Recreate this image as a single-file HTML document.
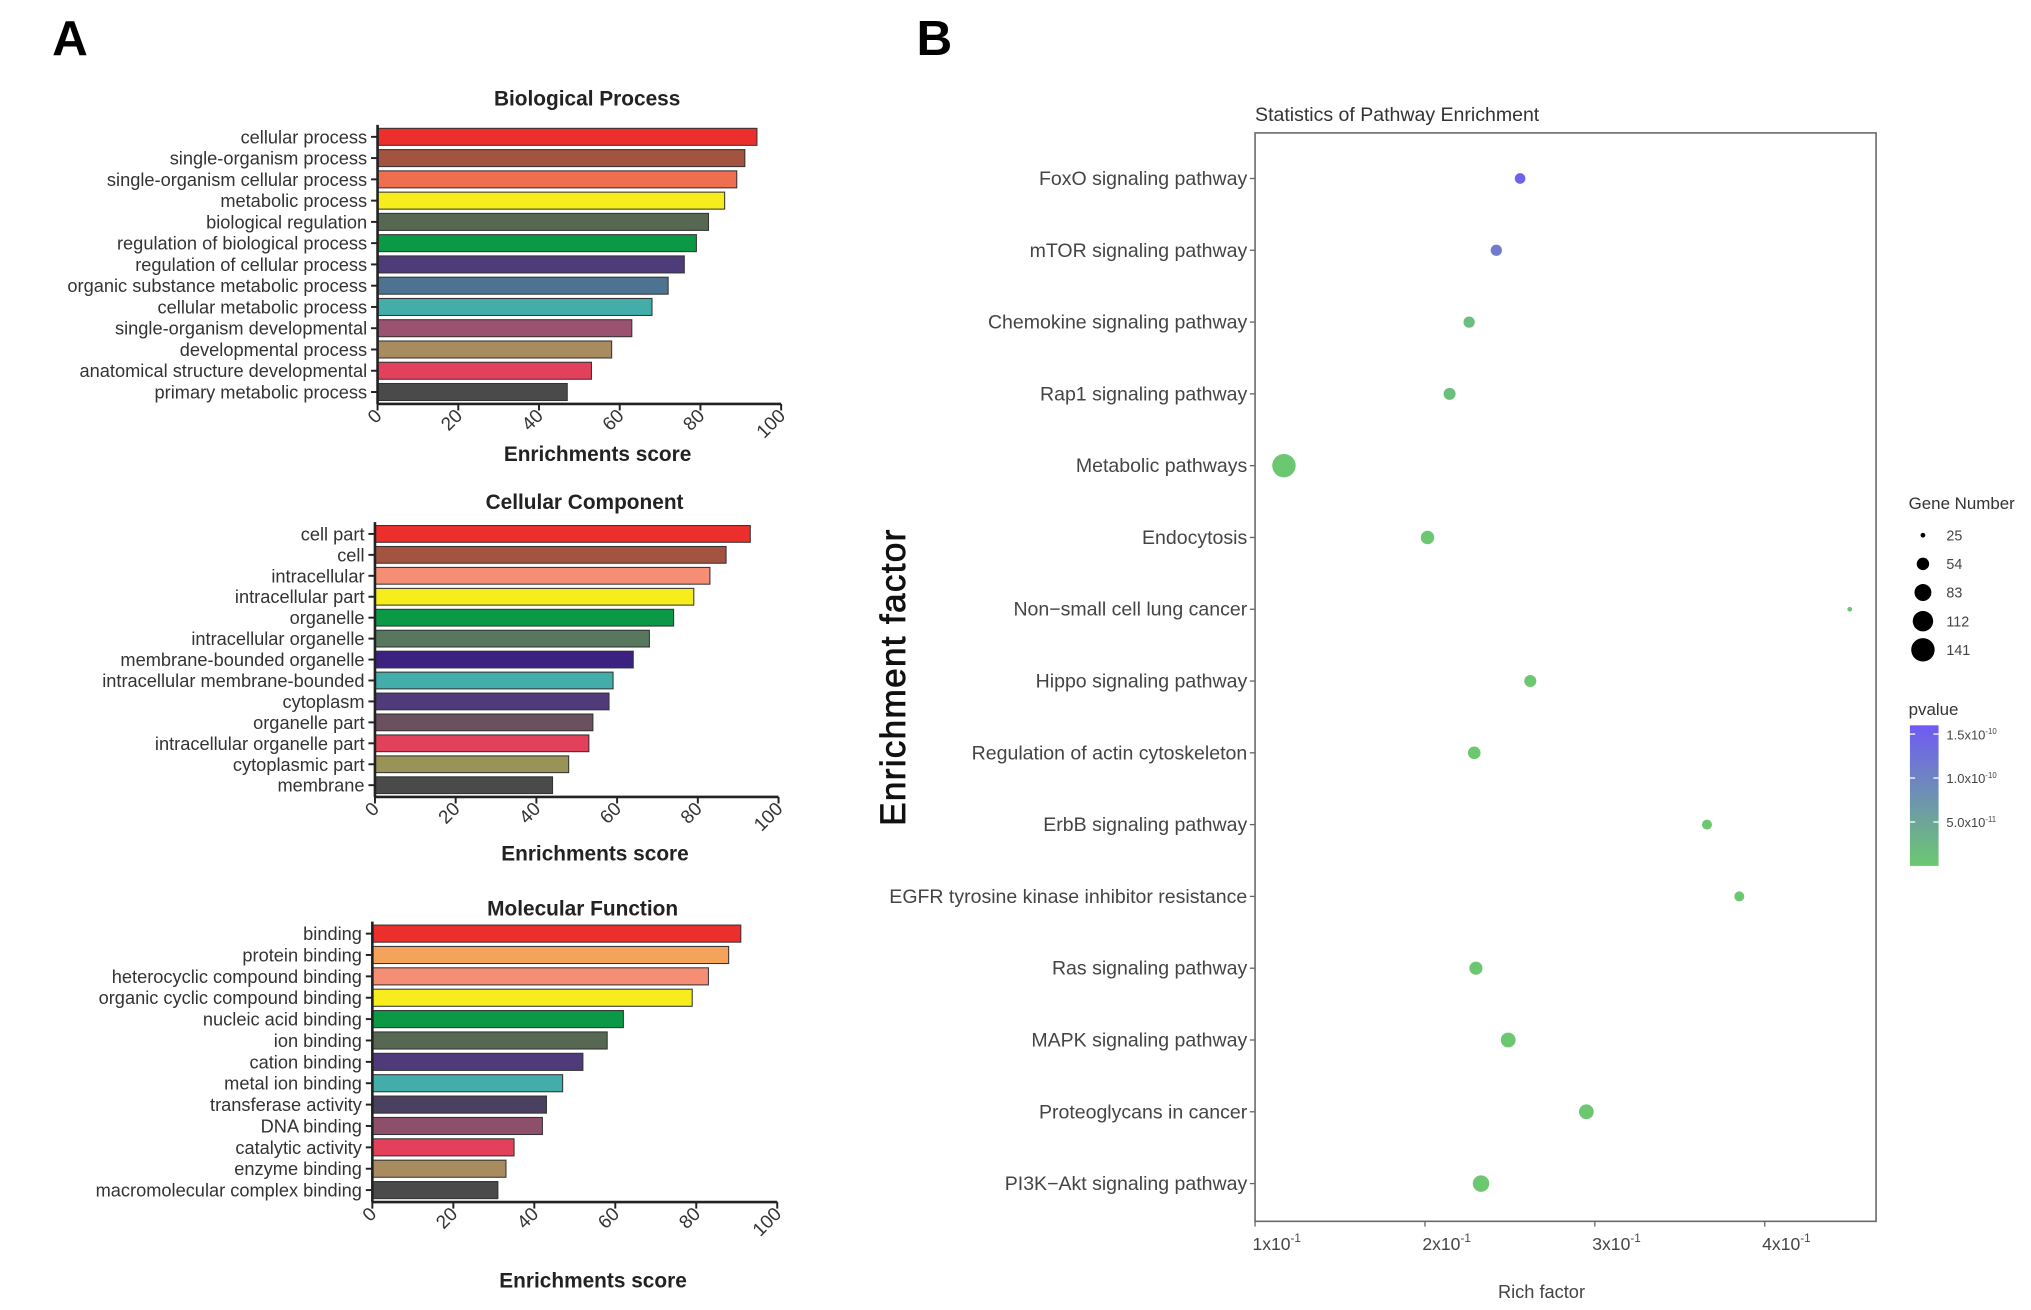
<!DOCTYPE html>
<html><head><meta charset="utf-8"><style>
html,body{margin:0;padding:0;background:#fff;}
svg{display:block;}
text{font-family:"Liberation Sans",Arial,sans-serif;}
</style></head><body>
<svg id="fig" width="2031" height="1310" viewBox="0 0 1560 1006" xmlns="http://www.w3.org/2000/svg">
<text x="40" y="42" font-size="38" font-weight="bold">A</text>
<text x="704" y="42" font-size="38" font-weight="bold">B</text>
<g id="panelA"></g>
<g id="panelB"></g>
</svg>
<script>
const NS="http://www.w3.org/2000/svg";
function mk(p,tag,attrs,txt){const e=document.createElementNS(NS,tag);for(const k in attrs)e.setAttribute(k,attrs[k]);if(txt!==undefined)e.textContent=txt;p.appendChild(e);return e;}

// ---- Panel A data ----
const bpCategories=["cellular process","single-organism process","single-organism cellular process","metabolic process","biological regulation","regulation of biological process","regulation of cellular process","organic substance metabolic process","cellular metabolic process","single-organism developmental","developmental process","anatomical structure developmental","primary metabolic process"];
const bpValues=[94,91,89,86,82,79,76,72,68,63,58,53,47];
const ccCategories=["cell part","cell","intracellular","intracellular part","organelle","intracellular organelle","membrane-bounded organelle","intracellular membrane-bounded","cytoplasm","organelle part","intracellular organelle part","cytoplasmic part","membrane"];
const ccValues=[93,87,83,79,74,68,64,59,58,54,53,48,44];
const mfCategories=["binding","protein binding","heterocyclic compound binding","organic cyclic compound binding","nucleic acid binding","ion binding","cation binding","metal ion binding","transferase activity","DNA binding","catalytic activity","enzyme binding","macromolecular complex binding"];
const mfValues=[91,88,83,79,62,58,52,47,43,42,35,33,31];
const scoreTicks=[0,20,40,60,80,100];
const bpColors=["#ec2f2c","#a3533f","#ee6e4f","#f7ec1c","#566852","#0c9945","#4e3b7a","#4d7391","#43adaa","#9a5270","#a88b5f","#e2405b","#4a4a4a"];
const ccColors=["#ec2f2c","#a3533f","#f68e75","#f7ec1c","#0c9945","#58785e","#3b2180","#43adaa","#4f3b7a","#6b5060","#e2405b","#9a9358","#4a4a4a"];
const mfColors=["#ec2f2c","#f4a35a","#f68e75","#f7ec1c","#0c9945","#566852","#4f3b7a","#43adaa","#4a4060","#8e4f6a","#e2405b","#a88b5f","#4a4a4a"];

function barPanel(name,title,cats,vals,cols,x0,x1,yTop,yBot,titleY,labelY){
  const A=document.getElementById('panelA');
  const g=mk(A,'g',{});
  
  
  const xs=v=>x0+(x1-x0)*v/100;
  const n=cats.length,step=(yBot-yTop)/(n-1),bh=step*0.8;
  const t=mk(g,'text',{x:(x0+x1)/2+6,y:titleY,'font-size':16,'font-weight':'bold','text-anchor':'middle',fill:'#222'},title);
  
  
  cats.forEach((c,i)=>{
    const yc=yTop+i*step;
    const r=mk(g,'rect',{x:xs(0),y:yc-bh/2,width:xs(vals[i])-xs(0),height:bh,fill:cols[i],stroke:'#333','stroke-width':0.8});
    
    
    const l=mk(g,'text',{x:x0-8,y:yc+5,'font-size':14,'text-anchor':'end',fill:'#333'},c);
    
    
    mk(g,'line',{x1:x0-5,x2:x0,y1:yc,y2:yc,stroke:'#222','stroke-width':1.5});
  });
  const ax=yBot+step/2+1;
  mk(g,'line',{x1:x0,x2:x0,y1:yTop-step/2-1,y2:ax,stroke:'#222','stroke-width':2});
  mk(g,'line',{x1:x0,x2:x1,y1:ax,y2:ax,stroke:'#222','stroke-width':2});
  scoreTicks.forEach(v=>{
    mk(g,'line',{x1:xs(v),x2:xs(v),y1:ax,y2:ax+5,stroke:'#222','stroke-width':1.5});
    const tl=mk(g,'text',{x:xs(v)+4,y:ax+10,'font-size':14.5,'text-anchor':'end',fill:'#333',transform:`rotate(-45 ${xs(v)+4} ${ax+10})`},String(v));
    
    
  });
  const xl=mk(g,'text',{x:(x0+x1)/2+14,y:labelY,'font-size':16,'font-weight':'bold','text-anchor':'middle',fill:'#222'},'Enrichments score');
  
  
}
barPanel('biological-process','Biological Process',bpCategories,bpValues,bpColors,290,600,105,301,81,354);
barPanel('cellular-component','Cellular Component',ccCategories,ccValues,ccColors,288,598,410,603,391,661);
barPanel('molecular-function','Molecular Function',mfCategories,mfValues,mfColors,286,597,717,914,703,989);

// ---- Panel B data ----
const pathways=["FoxO signaling pathway","mTOR signaling pathway","Chemokine signaling pathway","Rap1 signaling pathway","Metabolic pathways","Endocytosis","Non\u2212small cell lung cancer","Hippo signaling pathway","Regulation of actin cytoskeleton","ErbB signaling pathway","EGFR tyrosine kinase inhibitor resistance","Ras signaling pathway","MAPK signaling pathway","Proteoglycans in cancer","PI3K\u2212Akt signaling pathway"];
const richFactor=[0.256,0.242,0.226,0.2145,0.117,0.2015,0.450,0.262,0.229,0.366,0.385,0.230,0.249,0.295,0.233];
const geneNumber=[45,48,48,52,141,60,25,52,55,42,42,58,68,68,80];
const pValue=[1.5e-10,1.1e-10,1.5e-11,1.5e-11,1e-12,1e-12,1e-12,1e-12,1e-12,1e-12,1e-12,1e-12,1e-12,1e-12,1e-12];
const richTicks=[0.1,0.2,0.3,0.4];
const richTickLabels=["1x10","2x10","3x10","4x10"];
const sizeLegend=[25,54,83,112,141];
const pLegend=[1.5e-10,1.0e-10,5.0e-11];
const pLegendLabels=["1.5x10","1.0x10","5.0x10"];
const pLegendExp=["-10","-10","-11"];

(function(){
  const B=document.getElementById('panelB');
  const L=964,R=1441,T=102,Bt=938;
  const xs=v=>L+(v-0.1)*1305;
  const yTop=137,yStep=(909-137)/(pathways.length-1);
  const ys=i=>yTop+i*yStep;
  const rs=n=>9*Math.sqrt(Math.max(n-20,2)/121);
  const pmax=1.6e-10;
  const col=p=>{const t=Math.min(p/pmax,1);const a=[108,200,112],b=[112,90,245];return `rgb(${a.map((c,k)=>Math.round(c+(b[k]-c)*t)).join(',')})`;};
  const tt=mk(B,'text',{x:L,y:93,'font-size':15,fill:'#333'},'Statistics of Pathway Enrichment');
  
  
  const frame=mk(B,'rect',{x:L,y:T,width:R-L,height:Bt-T,fill:'none',stroke:'#666','stroke-width':1.2});
  
  
  pathways.forEach((p,i)=>{
    const y=ys(i);
    mk(B,'line',{x1:L-4,x2:L,y1:y,y2:y,stroke:'#666','stroke-width':1});
    const l=mk(B,'text',{x:L-6,y:y+5,'font-size':15,'text-anchor':'end',fill:'#444'},p);
    
    
    const c=mk(B,'circle',{cx:xs(richFactor[i]),cy:y,r:rs(geneNumber[i]),fill:col(pValue[i])});
    
    
  });
  richTicks.forEach((v,i)=>{
    mk(B,'line',{x1:xs(v),x2:xs(v),y1:Bt,y2:Bt+4,stroke:'#666','stroke-width':1});
    const t=mk(B,'text',{x:xs(v)-2,y:Bt+22,'font-size':13.5,fill:'#444'});
    
    
    mk(t,'tspan',{},richTickLabels[i]);
    mk(t,'tspan',{dy:-6,'font-size':9},'-1');
  });
  const xt=mk(B,'text',{x:1184,y:997,'font-size':14,'text-anchor':'middle',fill:'#444'},'Rich factor');
  
  
  const yt=mk(B,'text',{x:695,y:520,'font-size':27,'text-anchor':'middle',fill:'#111',stroke:'#111','stroke-width':0.6,transform:'rotate(-90 695 520)','letter-spacing':'1'},'Enrichment  factor');
  
  
  // size legend
  const lg=mk(B,'g',{});
  
  
  mk(lg,'text',{x:1466,y:391,'font-size':13,fill:'#333'},'Gene Number');
  sizeLegend.forEach((n,i)=>{
    const y=411+i*22;
    const c=mk(lg,'circle',{cx:1477,cy:y,r:rs(n),fill:'#000'});
    
    
    mk(lg,'text',{x:1495,y:y+4,'font-size':11,fill:'#444'},String(n));
  });
  // color legend
  const cg=mk(B,'g',{});
  
  
  mk(cg,'text',{x:1466,y:549,'font-size':13,fill:'#333'},'pvalue');
  const defs=mk(cg,'defs',{});
  const gr=mk(defs,'linearGradient',{id:'pg',x1:0,y1:1,x2:0,y2:0});
  mk(gr,'stop',{offset:'0','stop-color':col(0)});
  mk(gr,'stop',{offset:'1','stop-color':col(pmax)});
  const cbT=557,cbB=665;
  const cb=mk(cg,'rect',{x:1467,y:cbT,width:22,height:cbB-cbT,fill:'url(#pg)'});
  
  
  pLegend.forEach((p,i)=>{
    const y=cbB-(p/pmax)*(cbB-cbT);
    mk(cg,'line',{x1:1467,x2:1471,y1:y,y2:y,stroke:'#fff','stroke-width':1});
    mk(cg,'line',{x1:1485,x2:1489,y1:y,y2:y,stroke:'#fff','stroke-width':1});
    const t=mk(cg,'text',{x:1495,y:y+4,'font-size':10,fill:'#444'});
    mk(t,'tspan',{},pLegendLabels[i]);
    mk(t,'tspan',{dy:-4,'font-size':6},pLegendExp[i]);
  });
})();
</script>
</body></html>
